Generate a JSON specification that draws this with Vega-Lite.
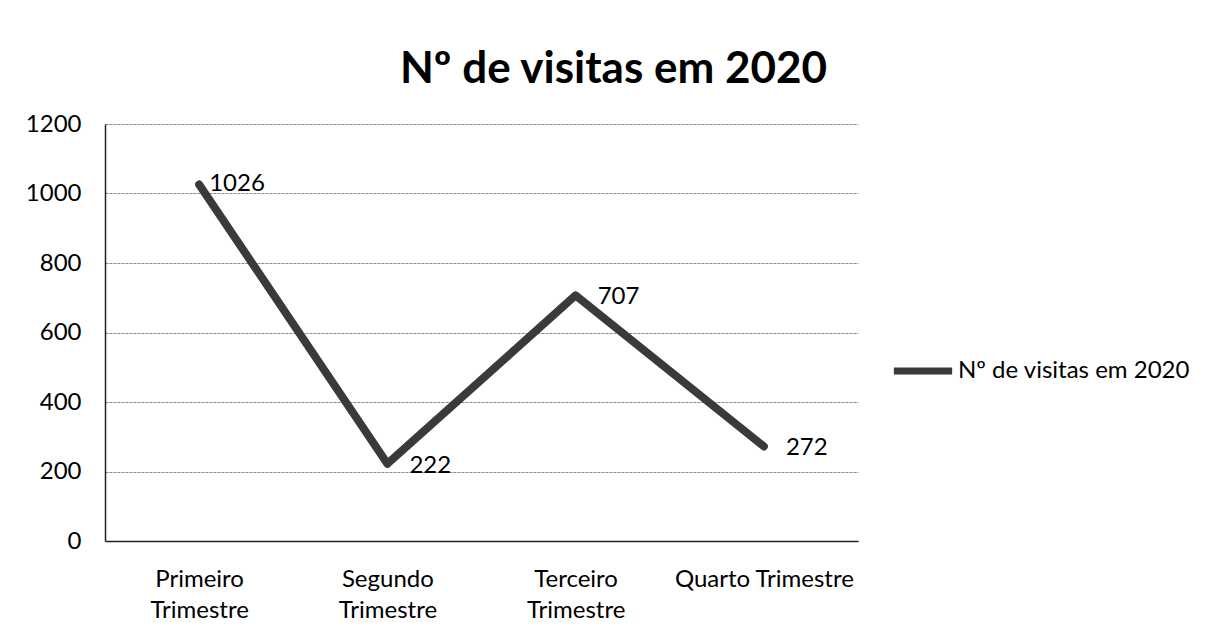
{
  "$schema": "https://vega.github.io/schema/vega-lite/v6.json",
  "autosize": "none",
  "width": 753,
  "height": 417,
  "padding": {"left": 105, "top": 124, "right": 355, "bottom": 94},
  "background": "white",
  "title": {
    "text": "Nº de visitas em 2020",
    "font": "Lato",
    "fontSize": 44,
    "fontWeight": "bold",
    "color": "#000",
    "anchor": "middle",
    "dx": 132,
    "offset": 20
  },
  "config": {
    "view": {"stroke": null},
    "font": "Lato"
  },
  "data": {
    "values": [
      {"trimestre": "Primeiro Trimestre", "visitas": 1026, "serie": "Nº de visitas em 2020"},
      {"trimestre": "Segundo Trimestre", "visitas": 222, "serie": "Nº de visitas em 2020"},
      {"trimestre": "Terceiro Trimestre", "visitas": 707, "serie": "Nº de visitas em 2020"},
      {"trimestre": "Quarto Trimestre", "visitas": 272, "serie": "Nº de visitas em 2020"}
    ]
  },
  "encoding": {
    "x": {
      "field": "trimestre",
      "type": "nominal",
      "sort": null,
      "scale": {"type": "point", "padding": 0.5},
      "axis": {
        "title": null,
        "labelAngle": 0,
        "labelFont": "Lato",
        "labelFontSize": 24,
        "labelColor": "#000",
        "labelPadding": 26,
        "labelLineHeight": 31,
        "labelExpr": "datum.label == 'Quarto Trimestre' ? datum.label : split(datum.label, ' ')",
        "ticks": false,
        "domainColor": "#222",
        "domainWidth": 1.5,
        "grid": false
      }
    },
    "y": {
      "field": "visitas",
      "type": "quantitative",
      "scale": {"domain": [0, 1200]},
      "axis": {
        "title": null,
        "format": "d",
        "values": [0, 200, 400, 600, 800, 1000, 1200],
        "labelFont": "Lato",
        "labelFontSize": 24,
        "labelColor": "#000",
        "labelPadding": 24,
        "ticks": false,
        "domainColor": "#222",
        "domainWidth": 1.5,
        "gridColor": "#888",
        "gridWidth": 1,
        "gridDash": [3, 1]
      }
    }
  },
  "layer": [
    {
      "mark": {"type": "line", "strokeWidth": 8, "strokeCap": "round", "strokeJoin": "round"},
      "encoding": {
        "color": {
          "field": "serie",
          "type": "nominal",
          "scale": {"range": ["#3a3a3a"]},
          "legend": {
            "title": null,
            "orient": "none",
            "legendX": 785,
            "legendY": 214,
            "symbolType": "stroke",
            "symbolSize": 3400,
            "symbolStrokeWidth": 7,
            "labelFont": "Lato",
            "labelFontSize": 24,
            "labelColor": "#000",
            "labelOffset": 2,
            "labelLimit": 400
          }
        }
      }
    },
    {
      "transform": [{"filter": "datum.trimestre == 'Primeiro Trimestre'"}],
      "mark": {"type": "text", "align": "left", "baseline": "middle", "dx": 10, "dy": 0, "fontSize": 24, "font": "Lato", "color": "#000"},
      "encoding": {"text": {"field": "visitas", "type": "quantitative"}}
    },
    {
      "transform": [{"filter": "datum.trimestre != 'Primeiro Trimestre'"}],
      "mark": {"type": "text", "align": "left", "baseline": "middle", "dx": 22, "dy": 2, "fontSize": 24, "font": "Lato", "color": "#000"},
      "encoding": {"text": {"field": "visitas", "type": "quantitative"}}
    }
  ]
}
